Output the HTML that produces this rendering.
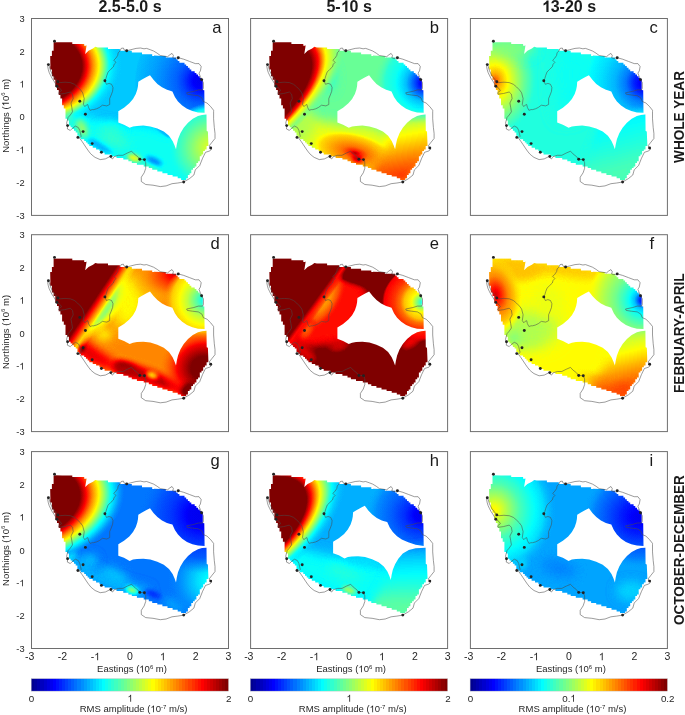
<!DOCTYPE html><html><head><meta charset="utf-8"><style>html,body{margin:0;padding:0;background:#fff;overflow:hidden}svg{display:block;will-change:transform}text{font-family:"Liberation Sans",sans-serif}</style></head><body>
<svg width="685" height="715" viewBox="0 0 685 715">
<defs>
<clipPath id="cr"><path d="M55.0,42.2 L62.1,42.3 L62.1,42.3 L63.8,42.3 L63.8,42.3 L65.5,42.3 L65.5,42.3 L67.2,42.3 L67.2,42.3 L68.9,42.3 L68.9,42.3 L72.3,42.3 L72.3,44.0 L74.0,44.0 L74.0,44.0 L75.7,44.0 L75.7,44.0 L77.4,44.0 L77.4,44.0 L79.1,44.0 L79.1,44.0 L80.8,44.0 L80.8,44.0 L82.5,44.0 L82.5,44.0 L84.2,44.0 L84.2,45.7 L85.9,45.7 L85.9,45.7 L86.6,45.3 L85.2,54.0 L88.5,50.8 L93.0,48.6 L95.3,46.8 L97.8,47.4 L97.8,47.4 L99.5,47.4 L99.5,47.4 L101.2,47.4 L101.2,47.4 L102.9,47.4 L102.9,47.4 L104.6,47.4 L104.6,47.4 L106.3,47.4 L106.3,47.4 L108.0,47.4 L108.0,49.1 L109.7,49.1 L109.7,49.1 L111.4,49.1 L111.4,49.1 L113.1,49.1 L113.1,49.1 L116.5,49.1 L116.5,49.1 L118.2,49.1 L118.2,49.1 L119.9,49.1 L119.9,50.8 L121.6,50.8 L121.6,50.8 L123.3,50.8 L123.3,50.8 L125.0,50.8 L125.0,50.8 L126.7,50.8 L126.7,50.8 L128.4,50.8 L128.4,50.8 L131.8,50.8 L131.8,52.5 L133.5,52.5 L133.5,52.5 L135.2,52.5 L135.2,52.5 L136.9,52.5 L136.9,52.5 L138.6,52.5 L138.6,52.5 L140.3,52.5 L140.3,52.5 L142.0,52.5 L142.0,54.2 L143.7,54.2 L143.7,54.2 L145.4,54.2 L145.4,54.2 L147.1,54.2 L147.1,54.2 L148.8,54.2 L148.8,54.2 L150.5,54.2 L150.5,54.2 L152.2,54.2 L152.2,55.9 L153.9,55.9 L153.9,55.9 L154.0,55.6 L162.4,55.9 L162.4,55.9 L164.1,55.9 L164.1,55.9 L165.8,55.9 L165.8,57.6 L167.5,57.6 L167.5,57.6 L169.2,57.6 L169.2,57.6 L170.9,57.6 L170.9,57.6 L172.6,57.6 L172.6,57.6 L174.3,57.6 L174.3,57.6 L176.0,57.6 L176.0,59.3 L177.7,59.3 L177.7,61.0 L179.4,61.0 L179.4,62.7 L181.1,62.7 L181.1,62.7 L184.5,62.7 L184.5,64.4 L186.2,64.4 L186.2,66.1 L187.9,66.1 L187.9,67.8 L189.6,67.8 L189.6,69.5 L191.3,69.5 L191.3,71.2 L193.0,71.2 L193.0,71.2 L194.7,71.2 L194.7,72.9 L196.4,72.9 L196.4,74.6 L198.1,74.6 L198.1,76.3 L199.8,76.3 L199.8,78.0 L201.5,78.0 L201.5,79.7 L203.2,79.7 L203.2,79.7 L202.8,80.4 L202.8,90.0 L204.3,90.2 L204.6,112.8 L198.0,112.5 L192.4,111.1 L187.0,108.8 L182.2,105.6 L178.0,101.5 L174.9,97.0 L172.4,91.5 L169.5,90.6 L167.0,89.8 L162.0,87.3 L157.4,83.9 L153.5,79.8 L150.0,75.2 L146.5,77.0 L142.0,79.5 L138.3,81.7 L138.0,86.0 L137.3,89.5 L135.8,94.0 L133.0,99.0 L129.3,103.3 L124.0,107.7 L118.3,111.2 L118.3,122.6 L124.0,124.7 L129.7,127.8 L133.0,126.5 L137.0,125.9 L143.3,125.6 L150.3,126.4 L157.3,128.6 L163.8,131.6 L169.0,135.8 L172.6,141.0 L174.6,145.5 L176.0,149.3 L176.8,144.5 L178.0,139.2 L180.4,133.3 L183.7,127.8 L188.0,122.8 L192.8,118.8 L198.0,116.1 L202.0,115.0 L206.3,114.6 L206.5,114.6 L206.7,131.0 L207.9,131.5 L208.4,144.5 L208.3,146.0 L206.6,146.0 L206.6,147.7 L206.6,147.7 L206.6,149.4 L204.9,149.4 L204.9,151.1 L203.2,151.1 L203.2,152.8 L203.2,152.8 L203.2,154.5 L201.5,154.5 L201.5,156.2 L199.8,156.2 L199.8,157.9 L199.8,157.9 L199.8,161.3 L198.1,161.3 L198.1,163.0 L196.4,163.0 L196.4,164.7 L196.4,164.7 L196.4,166.4 L194.7,166.4 L194.7,168.1 L193.0,168.1 L193.0,169.8 L191.3,169.8 L191.3,171.5 L191.3,171.5 L191.3,173.2 L189.6,173.2 L189.6,174.9 L187.9,174.9 L187.9,176.6 L187.9,176.6 L187.9,178.3 L186.2,178.3 L186.2,180.0 L184.5,180.0 L182.8,180.0 L182.8,180.0 L181.1,180.0 L181.1,178.3 L179.4,178.3 L179.4,178.3 L177.7,178.3 L177.7,176.6 L176.0,176.6 L176.0,176.6 L174.3,176.6 L174.3,176.6 L172.6,176.6 L172.6,174.9 L170.9,174.9 L170.9,174.9 L169.2,174.9 L169.2,174.9 L167.5,174.9 L167.5,173.2 L164.1,173.2 L164.1,173.2 L162.4,173.2 L162.4,171.5 L160.7,171.5 L160.7,171.5 L159.0,171.5 L159.0,171.5 L157.3,171.5 L157.3,169.8 L155.6,169.8 L155.6,169.8 L153.9,169.8 L153.9,169.8 L152.2,169.8 L152.2,168.1 L150.5,168.1 L150.5,168.1 L148.8,168.1 L148.8,166.4 L147.1,166.4 L147.1,166.4 L145.4,166.4 L145.4,166.4 L143.7,166.4 L143.7,164.7 L140.3,164.7 L140.3,164.7 L138.6,164.7 L138.6,164.7 L136.9,164.7 L136.9,163.0 L135.2,163.0 L135.2,163.0 L133.5,163.0 L133.5,163.0 L131.8,163.0 L131.8,161.3 L130.1,161.3 L130.1,161.3 L128.4,161.3 L128.4,159.6 L126.7,159.6 L126.7,159.6 L125.0,159.6 L125.0,159.6 L123.3,159.6 L123.3,157.9 L121.6,157.9 L121.6,157.9 L118.2,157.9 L118.2,157.9 L116.5,157.9 L116.5,156.2 L114.8,156.2 L114.8,156.2 L113.1,156.2 L113.1,156.2 L111.4,156.2 L111.4,154.5 L109.7,154.5 L109.7,154.5 L108.0,154.5 L108.0,154.5 L106.3,154.5 L106.3,154.5 L104.6,154.5 L104.6,152.8 L102.9,152.8 L102.9,152.8 L101.2,152.8 L101.2,151.1 L99.5,151.1 L99.5,149.4 L97.8,149.4 L97.8,149.4 L96.1,149.4 L96.1,147.7 L94.4,147.7 L94.4,147.7 L92.7,147.7 L92.7,146.0 L91.0,146.0 L91.0,146.0 L89.3,146.0 L89.3,144.3 L87.6,144.3 L87.6,142.6 L85.9,142.6 L85.9,140.9 L84.2,140.9 L84.2,139.2 L80.8,139.2 L80.8,137.5 L79.1,137.5 L79.1,135.8 L77.4,135.8 L77.4,134.1 L77.4,132.4 L75.7,132.4 L75.7,130.7 L74.0,130.7 L74.0,129.0 L72.3,129.0 L72.3,127.3 L70.6,127.3 L70.6,125.6 L68.9,125.6 L68.9,123.9 L68.9,123.9 L68.9,120.5 L67.2,120.5 L67.2,118.8 L65.5,118.8 L65.5,117.1 L65.5,117.1 L65.5,115.4 L65.5,115.4 L65.5,113.7 L65.5,113.7 L65.5,112.0 L65.5,112.0 L65.5,110.3 L65.5,110.3 L65.5,108.6 L63.8,108.6 L63.8,106.9 L63.8,106.9 L63.8,105.2 L62.1,105.2 L62.1,101.8 L62.1,101.8 L62.1,100.1 L62.1,100.1 L62.1,98.4 L60.4,98.4 L60.4,96.7 L60.4,96.7 L60.4,95.0 L58.7,95.0 L58.7,91.6 L58.7,91.6 L58.7,89.9 L57.0,89.9 L57.0,88.2 L57.0,88.2 L57.0,86.5 L55.3,86.5 L55.3,83.1 L55.3,83.1 L55.3,81.4 L55.3,81.4 L55.3,79.7 L53.6,79.7 L53.6,78.0 L53.6,78.0 L53.6,76.3 L51.9,76.3 L51.9,74.6 L51.9,74.6 L51.9,72.9 L51.9,72.9 L51.9,69.5 L50.2,69.5 L50.2,67.8 L50.2,67.8 L50.2,66.1 L50.2,66.1 L50.4,66.5 L50.2,57.6 L50.2,57.6 L50.2,55.9 L51.9,55.9 L51.9,52.5 L51.9,52.5 L51.9,50.8 L53.6,50.8 L53.6,49.1 L53.6,49.1 L53.6,47.4 L53.6,47.4 L53.6,45.7 L53.6,45.7 L53.6,44.0 L53.6,44.0 L53.6,42.3 L55.3,42.3 L55.0,42.2 Z"/></clipPath>
<clipPath id="cr2"><path d="M55.0,42.2 L62.1,42.3 L62.1,42.3 L63.8,42.3 L63.8,42.3 L65.5,42.3 L65.5,42.3 L67.2,42.3 L67.2,42.3 L68.9,42.3 L68.9,42.3 L72.3,42.3 L72.3,44.0 L74.0,44.0 L74.0,44.0 L75.7,44.0 L75.7,44.0 L77.4,44.0 L77.4,44.0 L79.1,44.0 L79.1,44.0 L80.8,44.0 L80.8,44.0 L82.5,44.0 L82.5,44.0 L84.2,44.0 L84.2,45.7 L85.9,45.7 L85.9,45.7 L86.6,45.3 L85.2,54.0 L88.5,50.8 L93.0,48.6 L95.3,46.8 L97.8,47.4 L97.8,47.4 L99.5,47.4 L99.5,47.4 L101.2,47.4 L101.2,47.4 L102.9,47.4 L102.9,47.4 L104.6,47.4 L104.6,47.4 L106.3,47.4 L106.3,47.4 L108.0,47.4 L108.0,49.1 L109.7,49.1 L109.7,49.1 L111.4,49.1 L111.4,49.1 L113.1,49.1 L113.1,49.1 L116.5,49.1 L116.5,49.1 L118.2,49.1 L118.2,49.1 L119.9,49.1 L119.9,50.8 L121.6,50.8 L121.6,50.8 L123.3,50.8 L123.3,50.8 L125.0,50.8 L125.0,50.8 L126.7,50.8 L126.7,50.8 L128.4,50.8 L128.4,50.8 L131.8,50.8 L131.8,52.5 L133.5,52.5 L133.5,52.5 L135.2,52.5 L135.2,52.5 L136.9,52.5 L136.9,52.5 L138.6,52.5 L138.6,52.5 L140.3,52.5 L140.3,52.5 L142.0,52.5 L142.0,54.2 L143.7,54.2 L143.7,54.2 L145.4,54.2 L145.4,54.2 L147.1,54.2 L147.1,54.2 L148.8,54.2 L148.8,54.2 L150.5,54.2 L150.5,54.2 L152.2,54.2 L152.2,55.9 L153.9,55.9 L153.9,55.9 L154.0,55.6 L162.4,55.9 L162.4,55.9 L164.1,55.9 L164.1,55.9 L165.8,55.9 L165.8,57.6 L167.5,57.6 L167.5,57.6 L169.2,57.6 L169.2,57.6 L170.9,57.6 L170.9,57.6 L172.6,57.6 L172.6,57.6 L174.3,57.6 L174.3,57.6 L176.0,57.6 L176.0,59.3 L177.7,59.3 L177.7,61.0 L179.4,61.0 L179.4,62.7 L181.1,62.7 L181.1,62.7 L184.5,62.7 L184.5,64.4 L186.2,64.4 L186.2,66.1 L187.9,66.1 L187.9,67.8 L189.6,67.8 L189.6,69.5 L191.3,69.5 L191.3,71.2 L193.0,71.2 L193.0,71.2 L194.7,71.2 L194.7,72.9 L196.4,72.9 L196.4,74.6 L198.1,74.6 L198.1,76.3 L199.8,76.3 L199.8,78.0 L201.5,78.0 L201.5,79.7 L203.2,79.7 L203.2,79.7 L202.8,80.4 L202.8,90.0 L204.3,90.2 L204.6,112.8 L196.5,111.6 L189.1,109.2 L182.7,106.3 L177.9,103.1 L173.7,99.0 L170.6,94.5 L168.1,89.0 L165.2,88.1 L162.7,87.3 L157.7,84.8 L153.1,81.4 L149.2,77.3 L145.7,72.7 L142.2,74.5 L137.7,77.0 L134.0,79.2 L133.7,83.5 L133.0,87.0 L131.5,91.5 L128.7,96.5 L125.0,100.8 L119.7,105.2 L114.0,108.7 L114.0,120.1 L119.7,122.2 L125.4,125.3 L128.7,124.0 L132.7,123.4 L139.0,123.1 L146.0,123.9 L153.0,126.1 L159.5,129.1 L164.7,133.3 L168.3,138.5 L170.3,143.0 L171.7,146.8 L172.5,142.0 L173.7,136.7 L176.1,130.8 L179.4,125.3 L183.7,120.3 L189.7,117.0 L196.5,115.2 L201.7,114.8 L206.3,114.6 L206.5,114.6 L206.7,131.0 L207.9,131.5 L208.4,144.5 L208.3,146.0 L206.6,146.0 L206.6,147.7 L206.6,147.7 L206.6,149.4 L204.9,149.4 L204.9,151.1 L203.2,151.1 L203.2,152.8 L203.2,152.8 L203.2,154.5 L201.5,154.5 L201.5,156.2 L199.8,156.2 L199.8,157.9 L199.8,157.9 L199.8,161.3 L198.1,161.3 L198.1,163.0 L196.4,163.0 L196.4,164.7 L196.4,164.7 L196.4,166.4 L194.7,166.4 L194.7,168.1 L193.0,168.1 L193.0,169.8 L191.3,169.8 L191.3,171.5 L191.3,171.5 L191.3,173.2 L189.6,173.2 L189.6,174.9 L187.9,174.9 L187.9,176.6 L187.9,176.6 L187.9,178.3 L186.2,178.3 L186.2,180.0 L184.5,180.0 L182.8,180.0 L182.8,180.0 L181.1,180.0 L181.1,178.3 L179.4,178.3 L179.4,178.3 L177.7,178.3 L177.7,176.6 L176.0,176.6 L176.0,176.6 L174.3,176.6 L174.3,176.6 L172.6,176.6 L172.6,174.9 L170.9,174.9 L170.9,174.9 L169.2,174.9 L169.2,174.9 L167.5,174.9 L167.5,173.2 L164.1,173.2 L164.1,173.2 L162.4,173.2 L162.4,171.5 L160.7,171.5 L160.7,171.5 L159.0,171.5 L159.0,171.5 L157.3,171.5 L157.3,169.8 L155.6,169.8 L155.6,169.8 L153.9,169.8 L153.9,169.8 L152.2,169.8 L152.2,168.1 L150.5,168.1 L150.5,168.1 L148.8,168.1 L148.8,166.4 L147.1,166.4 L147.1,166.4 L145.4,166.4 L145.4,166.4 L143.7,166.4 L143.7,164.7 L140.3,164.7 L140.3,164.7 L138.6,164.7 L138.6,164.7 L136.9,164.7 L136.9,163.0 L135.2,163.0 L135.2,163.0 L133.5,163.0 L133.5,163.0 L131.8,163.0 L131.8,161.3 L130.1,161.3 L130.1,161.3 L128.4,161.3 L128.4,159.6 L126.7,159.6 L126.7,159.6 L125.0,159.6 L125.0,159.6 L123.3,159.6 L123.3,157.9 L121.6,157.9 L121.6,157.9 L118.2,157.9 L118.2,157.9 L116.5,157.9 L116.5,156.2 L114.8,156.2 L114.8,156.2 L113.1,156.2 L113.1,156.2 L111.4,156.2 L111.4,154.5 L109.7,154.5 L109.7,154.5 L108.0,154.5 L108.0,154.5 L106.3,154.5 L106.3,154.5 L104.6,154.5 L104.6,152.8 L102.9,152.8 L102.9,152.8 L101.2,152.8 L101.2,151.1 L99.5,151.1 L99.5,149.4 L97.8,149.4 L97.8,149.4 L96.1,149.4 L96.1,147.7 L94.4,147.7 L94.4,147.7 L92.7,147.7 L92.7,146.0 L91.0,146.0 L91.0,146.0 L89.3,146.0 L89.3,144.3 L87.6,144.3 L87.6,142.6 L85.9,142.6 L85.9,140.9 L84.2,140.9 L84.2,139.2 L80.8,139.2 L80.8,137.5 L79.1,137.5 L79.1,135.8 L77.4,135.8 L77.4,134.1 L77.4,132.4 L75.7,132.4 L75.7,130.7 L74.0,130.7 L74.0,129.0 L72.3,129.0 L72.3,127.3 L70.6,127.3 L70.6,125.6 L68.9,125.6 L68.9,123.9 L68.9,123.9 L68.9,120.5 L67.2,120.5 L67.2,118.8 L65.5,118.8 L65.5,117.1 L65.5,117.1 L65.5,115.4 L65.5,115.4 L65.5,113.7 L65.5,113.7 L65.5,112.0 L65.5,112.0 L65.5,110.3 L65.5,110.3 L65.5,108.6 L63.8,108.6 L63.8,106.9 L63.8,106.9 L63.8,105.2 L62.1,105.2 L62.1,101.8 L62.1,101.8 L62.1,100.1 L62.1,100.1 L62.1,98.4 L60.4,98.4 L60.4,96.7 L60.4,96.7 L60.4,95.0 L58.7,95.0 L58.7,91.6 L58.7,91.6 L58.7,89.9 L57.0,89.9 L57.0,88.2 L57.0,88.2 L57.0,86.5 L55.3,86.5 L55.3,83.1 L55.3,83.1 L55.3,81.4 L55.3,81.4 L55.3,79.7 L53.6,79.7 L53.6,78.0 L53.6,78.0 L53.6,76.3 L51.9,76.3 L51.9,74.6 L51.9,74.6 L51.9,72.9 L51.9,72.9 L51.9,69.5 L50.2,69.5 L50.2,67.8 L50.2,67.8 L50.2,66.1 L50.2,66.1 L50.4,66.5 L50.2,57.6 L50.2,57.6 L50.2,55.9 L51.9,55.9 L51.9,52.5 L51.9,52.5 L51.9,50.8 L53.6,50.8 L53.6,49.1 L53.6,49.1 L53.6,47.4 L53.6,47.4 L53.6,45.7 L53.6,45.7 L53.6,44.0 L53.6,44.0 L53.6,42.3 L55.3,42.3 L55.0,42.2 Z"/></clipPath>
<filter id="jet" x="30" y="30" width="200" height="170" filterUnits="userSpaceOnUse" color-interpolation-filters="sRGB"><feComponentTransfer><feFuncR type="table" tableValues="0.000 0.000 0.000 0.000 0.000 0.000 0.000 0.000 0.000 0.000 0.000 0.000 0.000 0.000 0.000 0.000 0.000 0.000 0.000 0.000 0.000 0.000 0.000 0.000 0.000 0.000 0.000 0.000 0.000 0.000 0.000 0.000 0.000 0.000 0.000 0.000 0.000 0.019 0.059 0.098 0.138 0.177 0.216 0.256 0.295 0.334 0.374 0.413 0.453 0.492 0.531 0.571 0.610 0.649 0.689 0.728 0.768 0.807 0.846 0.886 0.925 0.964 1.000 1.000 1.000 1.000 1.000 1.000 1.000 1.000 1.000 1.000 1.000 1.000 1.000 1.000 1.000 1.000 1.000 1.000 1.000 1.000 1.000 1.000 1.000 1.000 1.000 1.000 0.972 0.933 0.894 0.854 0.815 0.776 0.736 0.697 0.657 0.618 0.579 0.539 0.500 0.500 0.500 0.500 0.500 0.500 0.500 0.500 0.500 0.500 0.500 0.500 0.500 0.500 0.500 0.500 0.500 0.500 0.500 0.500 0.500 0.500 0.500 0.500 0.500 0.500 0.500 0.500 0.500 0.500 0.500"/><feFuncG type="table" tableValues="0.000 0.000 0.000 0.000 0.000 0.000 0.000 0.000 0.000 0.000 0.000 0.000 0.035 0.074 0.114 0.153 0.193 0.232 0.271 0.311 0.350 0.389 0.429 0.468 0.508 0.547 0.586 0.626 0.665 0.704 0.744 0.783 0.823 0.862 0.901 0.941 0.980 1.000 1.000 1.000 1.000 1.000 1.000 1.000 1.000 1.000 1.000 1.000 1.000 1.000 1.000 1.000 1.000 1.000 1.000 1.000 1.000 1.000 1.000 1.000 1.000 1.000 0.996 0.957 0.917 0.878 0.839 0.799 0.760 0.721 0.681 0.642 0.602 0.563 0.524 0.484 0.445 0.406 0.366 0.327 0.287 0.248 0.209 0.169 0.130 0.091 0.051 0.012 0.000 0.000 0.000 0.000 0.000 0.000 0.000 0.000 0.000 0.000 0.000 0.000 0.000 0.000 0.000 0.000 0.000 0.000 0.000 0.000 0.000 0.000 0.000 0.000 0.000 0.000 0.000 0.000 0.000 0.000 0.000 0.000 0.000 0.000 0.000 0.000 0.000 0.000 0.000 0.000 0.000 0.000 0.000"/><feFuncB type="table" tableValues="0.562 0.602 0.641 0.681 0.720 0.759 0.799 0.838 0.877 0.917 0.956 0.996 1.000 1.000 1.000 1.000 1.000 1.000 1.000 1.000 1.000 1.000 1.000 1.000 1.000 1.000 1.000 1.000 1.000 1.000 1.000 1.000 1.000 1.000 1.000 1.000 1.000 0.981 0.941 0.902 0.862 0.823 0.784 0.744 0.705 0.666 0.626 0.587 0.547 0.508 0.469 0.429 0.390 0.351 0.311 0.272 0.232 0.193 0.154 0.114 0.075 0.036 0.000 0.000 0.000 0.000 0.000 0.000 0.000 0.000 0.000 0.000 0.000 0.000 0.000 0.000 0.000 0.000 0.000 0.000 0.000 0.000 0.000 0.000 0.000 0.000 0.000 0.000 0.000 0.000 0.000 0.000 0.000 0.000 0.000 0.000 0.000 0.000 0.000 0.000 0.000 0.000 0.000 0.000 0.000 0.000 0.000 0.000 0.000 0.000 0.000 0.000 0.000 0.000 0.000 0.000 0.000 0.000 0.000 0.000 0.000 0.000 0.000 0.000 0.000 0.000 0.000 0.000 0.000 0.000 0.000"/></feComponentTransfer></filter>
<filter id="b1" x="-100%" y="-100%" width="300%" height="300%" color-interpolation-filters="sRGB"><feGaussianBlur stdDeviation="1"/></filter>
<filter id="b2" x="-100%" y="-100%" width="300%" height="300%" color-interpolation-filters="sRGB"><feGaussianBlur stdDeviation="2"/></filter>
<filter id="b3" x="-100%" y="-100%" width="300%" height="300%" color-interpolation-filters="sRGB"><feGaussianBlur stdDeviation="3"/></filter>
<filter id="b4" x="-100%" y="-100%" width="300%" height="300%" color-interpolation-filters="sRGB"><feGaussianBlur stdDeviation="4"/></filter>
<filter id="b5" x="-100%" y="-100%" width="300%" height="300%" color-interpolation-filters="sRGB"><feGaussianBlur stdDeviation="5"/></filter>
<filter id="b6" x="-100%" y="-100%" width="300%" height="300%" color-interpolation-filters="sRGB"><feGaussianBlur stdDeviation="6"/></filter>
<filter id="b7" x="-100%" y="-100%" width="300%" height="300%" color-interpolation-filters="sRGB"><feGaussianBlur stdDeviation="7"/></filter>
<filter id="b8" x="-100%" y="-100%" width="300%" height="300%" color-interpolation-filters="sRGB"><feGaussianBlur stdDeviation="8"/></filter>
<filter id="b10" x="-100%" y="-100%" width="300%" height="300%" color-interpolation-filters="sRGB"><feGaussianBlur stdDeviation="10"/></filter>
<filter id="b12" x="-100%" y="-100%" width="300%" height="300%" color-interpolation-filters="sRGB"><feGaussianBlur stdDeviation="12"/></filter>
<filter id="b15" x="-100%" y="-100%" width="300%" height="300%" color-interpolation-filters="sRGB"><feGaussianBlur stdDeviation="15"/></filter>
<filter id="b20" x="-100%" y="-100%" width="300%" height="300%" color-interpolation-filters="sRGB"><feGaussianBlur stdDeviation="20"/></filter>
<g id="coast" fill="none" stroke="#4a4a4a" stroke-width="0.55" stroke-linejoin="round"><path d="M48.4,64.6 L47.7,66.5 L48.3,69.5 L49.1,72.3 L50.5,75.3 L52.0,78.2 L54.0,81.2 L55.7,84.0 L56.9,86.2 L60.1,88.4 L61.5,90.6 L58.6,92.8 L59.4,94.2 L64.5,93.5 L70.3,92.0 L72.5,94.2 L73.2,98.6 L71.0,103.0 L71.8,107.4 L72.5,111.8 L70.3,115.0 L68.1,117.5 L66.6,123.1 L67.6,125.6 L67.4,129.0 L70.3,130.4 L72.5,128.2 L75.4,126.1 L78.3,127.5 L79.8,130.4 L80.5,133.4 L81.2,136.3 L79.5,138.0 L82.0,141.4 L84.3,144.8 L86.4,148.0 L88.5,151.0 L90.7,153.8 L93.0,155.8 L95.1,157.4 L100.2,159.6 L105.3,158.9 L109.7,156.7 L112.6,158.9 L114.1,156.7 L118.5,155.3 L122.9,155.3 L127.2,153.1 L131.6,151.2 L134.0,153.8 L137.7,156.7 L139.8,159.3 L144.4,159.6 L145.7,162.6 L145.7,168.4 L144.2,172.8 L141.3,177.2 L141.3,181.5 L145.7,184.5 L153.0,185.2 L160.3,186.6 L166.1,185.9 L172.0,183.7 L177.8,183.0 L183.7,182.0 L189.5,178.6 L193.9,175.0 L195.3,169.9 L199.7,165.5 L202.6,158.2 L205.5,152.3 L209.9,150.9 L211.4,149.4 L210.7,148.0 L209.2,145.8 L212.1,142.1 L215.0,138.5 L215.0,133.4 L214.3,127.5 L213.6,118.8 L213.6,111.5 L213.6,110.3 L210.7,106.6 L207.0,103.0 L203.4,101.5 L201.9,97.9 L198.3,95.7 L192.4,95.0 L187.3,94.2 L186.6,92.8 L193.9,91.3 L198.3,89.9 L202.6,89.9 L203.4,88.4 L203.4,82.6 L201.6,79.6 L200.4,76.7 L199.0,73.1 L200.4,70.9 L201.2,66.5 L199.0,63.6 L195.3,63.6 L189.5,61.4 L183.7,59.2 L178.3,57.7 L174.9,58.5 L172.7,57.7 L173.4,55.5 L172.0,53.4 L169.8,54.8 L167.6,56.7 L160.3,55.5 L157.2,53.2 L153.6,51.0 L150.2,49.7 L146.6,48.4 L144.0,48.8 L140.5,48.0 L136.1,48.4 L130.9,49.7 L126.7,50.8 L124.3,50.1 L123.4,48.0 L121.2,48.4 L119.9,51.0"/><path d="M48.4,64.6 L49.1,65.8 L50.6,70.9 L52.8,75.3 L55.0,78.2 L57.9,81.8 L60.1,82.6 L65.0,82.2 L70.3,82.6 L74.5,84.3 L77.6,86.9 L80.5,89.8 L82.7,92.8 L84.2,98.6 L83.4,104.5 L84.9,106.6 L86.4,105.0 L87.8,104.5 L88.5,107.4 L90.0,110.3 L92.2,109.6 L93.7,109.6 L96.6,108.8 L99.5,107.4 L102.4,105.2 L106.8,105.9 L109.7,104.5 L109.7,98.6 L111.2,95.0 L112.6,91.3 L113.0,87.5 L111.6,84.3 L109.0,83.4 L106.4,84.3 L104.9,80.7 L105.9,78.6 L106.8,75.5 L108.1,72.0 L110.7,69.4 L113.4,66.8 L114.2,64.2 L116.0,62.4 L113.8,60.2 L116.0,58.0 L117.7,55.4 L118.2,52.8 L119.9,51.0"/></g>
<g id="dots" fill="#222"><circle cx="54.5" cy="41.2" r="1.45"/><circle cx="48.4" cy="64.6" r="1.45"/><circle cx="57.9" cy="81.8" r="1.45"/><circle cx="56.9" cy="86.2" r="1.45"/><circle cx="104.9" cy="80.7" r="1.45"/><circle cx="79.8" cy="101.2" r="1.45"/><circle cx="85.4" cy="114.3" r="1.45"/><circle cx="67.6" cy="125.6" r="1.45"/><circle cx="83.1" cy="131.6" r="1.45"/><circle cx="77.9" cy="137.4" r="1.45"/><circle cx="92.2" cy="143.6" r="1.45"/><circle cx="101.4" cy="152.3" r="1.45"/><circle cx="110.9" cy="156.4" r="1.45"/><circle cx="139.8" cy="159.3" r="1.45"/><circle cx="144.4" cy="159.6" r="1.45"/><circle cx="126.7" cy="50.8" r="1.45"/><circle cx="178.3" cy="57.7" r="1.45"/><circle cx="201.6" cy="79.6" r="1.45"/><circle cx="210.7" cy="148.0" r="1.45"/><circle cx="183.7" cy="182.0" r="1.45"/></g>
</defs>
<g transform="translate(0,0)">
<g clip-path="url(#cr)"><g filter="url(#jet)">
<rect x="40" y="35" width="180" height="155" fill="#3d3d3d"/>
<path d="M64.00,108.00 C68.67,106.00 81.00,115.33 90.00,118.00 C99.00,120.67 108.00,122.50 118.00,124.00 C128.00,125.50 141.00,125.50 150.00,127.00 C159.00,128.50 163.67,134.67 172.00,133.00 C180.33,131.33 193.00,115.83 200.00,117.00 C207.00,118.17 215.67,128.17 214.00,140.00 C212.33,151.83 200.67,182.33 190.00,188.00 C179.33,193.67 165.00,179.00 150.00,174.00 C135.00,169.00 114.67,165.33 100.00,158.00 C85.33,150.67 68.00,138.33 62.00,130.00 C56.00,121.67 59.33,110.00 64.00,108.00 Z" fill="#4a4a4a" filter="url(#b5)"/>
<ellipse cx="20" cy="69.95" rx="102.72" ry="67.96" fill="url(#g1)" transform="rotate(-6.09 20 69.95)"/>
<ellipse cx="58" cy="52" rx="10" ry="10" fill="#ffffff" filter="url(#b3)"/>
<ellipse cx="200" cy="81" rx="66" ry="66" fill="url(#g2)"/>
<ellipse cx="68" cy="118" rx="3" ry="8" fill="#5c5c5c" filter="url(#b3)"/>
<ellipse cx="82" cy="128" rx="4" ry="10" fill="#6a6a6a" transform="rotate(-27 82 128)" filter="url(#b3)"/>
<ellipse cx="110" cy="131" rx="12" ry="8" fill="#4e4e4e" filter="url(#b4)"/>
<ellipse cx="100" cy="146" rx="14" ry="3" fill="#353535" transform="rotate(30 100 146)" filter="url(#b2)"/>
<ellipse cx="115" cy="140" rx="15" ry="6" fill="#525252" transform="rotate(20 115 140)" filter="url(#b5)"/>
<ellipse cx="134" cy="158" rx="7" ry="3" fill="#7e7e7e" transform="rotate(20 134 158)" filter="url(#b2)"/>
<ellipse cx="150" cy="167" rx="10" ry="3" fill="#5a5a5a" transform="rotate(20 150 167)" filter="url(#b3)"/>
<ellipse cx="154" cy="161" rx="9" ry="3" fill="#2d2d2d" transform="rotate(25 154 161)" filter="url(#b2)"/>
<ellipse cx="211" cy="148" rx="45" ry="45" fill="url(#g3)"/>
</g></g>
<use href="#coast"/><use href="#dots"/>
<rect x="31.5" y="18.5" width="197" height="196.9" fill="none" stroke="#6e6e6e" stroke-width="1"/>
<text x="212.2" y="33.0" font-size="16.6" fill="#1a1a1a">a</text>
</g>
<g transform="translate(219.1,0)">
<g clip-path="url(#cr)"><g filter="url(#jet)">
<rect x="40" y="35" width="180" height="155" fill="#5c5c5c"/>
<path d="M64.00,108.00 C68.67,106.00 81.00,115.33 90.00,118.00 C99.00,120.67 108.00,122.50 118.00,124.00 C128.00,125.50 141.00,125.50 150.00,127.00 C159.00,128.50 163.67,134.67 172.00,133.00 C180.33,131.33 193.00,115.83 200.00,117.00 C207.00,118.17 215.67,128.17 214.00,140.00 C212.33,151.83 200.67,182.33 190.00,188.00 C179.33,193.67 165.00,179.00 150.00,174.00 C135.00,169.00 114.67,165.33 100.00,158.00 C85.33,150.67 68.00,138.33 62.00,130.00 C56.00,121.67 59.33,110.00 64.00,108.00 Z" fill="#767676" filter="url(#b6)"/>
<ellipse cx="80" cy="125" rx="15" ry="18" fill="#6a6a6a" filter="url(#b6)"/>
<ellipse cx="110" cy="78" rx="7" ry="14" fill="#525252" filter="url(#b5)"/>
<ellipse cx="136" cy="153" rx="44" ry="20" fill="url(#g4)" transform="rotate(15 136 153)"/>
<ellipse cx="138" cy="159" rx="5" ry="2.5" fill="#c4c4c4" transform="rotate(20 138 159)" filter="url(#b2)"/>
<ellipse cx="205" cy="83" rx="50" ry="50" fill="url(#g5)"/>
<path d="M174.0,119.0 L215.0,117.0 L215.0,150.0 L186.0,185.0 L150.0,176.0 L165.0,150.0 Z" fill="url(#g6)" filter="url(#b4)"/>
<ellipse cx="-60" cy="135.57" rx="73.81" ry="208.46" fill="url(#g7)" transform="rotate(61.26 -60 135.57)"/>
</g></g>
<use href="#coast"/><use href="#dots"/>
<rect x="31.5" y="18.5" width="197" height="196.9" fill="none" stroke="#6e6e6e" stroke-width="1"/>
<text x="210.6" y="33.0" font-size="16.6" fill="#1a1a1a">b</text>
</g>
<g transform="translate(438.9,0)">
<g clip-path="url(#cr)"><g filter="url(#jet)">
<rect x="40" y="35" width="180" height="155" fill="#4e4e4e"/>
<path d="M120.00,45.00 C125.00,34.67 143.33,45.83 150.00,50.00 C156.67,54.17 161.67,60.00 160.00,70.00 C158.33,80.00 146.67,103.00 140.00,110.00 C133.33,117.00 123.33,122.83 120.00,112.00 C116.67,101.17 115.00,55.33 120.00,45.00 Z" fill="#4a4a4a" filter="url(#b8)"/>
<ellipse cx="56" cy="81" rx="42" ry="54" fill="url(#g8)"/>
<ellipse cx="75" cy="48" rx="20" ry="8" fill="#626262" filter="url(#b6)"/>
<ellipse cx="205" cy="83" rx="60" ry="60" fill="url(#g9)"/>
<path d="M165.0,115.0 L215.0,110.0 L215.0,150.0 L186.0,185.0 L140.0,172.0 L150.0,150.0 Z" fill="url(#g10)" filter="url(#b3)"/>
</g></g>
<use href="#coast"/><use href="#dots"/>
<rect x="31.5" y="18.5" width="197" height="196.9" fill="none" stroke="#6e6e6e" stroke-width="1"/>
<text x="210.6" y="33.0" font-size="16.6" fill="#1a1a1a">c</text>
</g>
<g transform="translate(0,216.2)">
<g clip-path="url(#cr)"><g filter="url(#jet)">
<rect x="40" y="35" width="180" height="155" fill="#919191"/>
<ellipse cx="128" cy="86" rx="18" ry="28" fill="#7a7a7a" filter="url(#b7)"/>
<ellipse cx="152" cy="70" rx="18" ry="10" fill="#838383" filter="url(#b6)"/>
<ellipse cx="175" cy="58" rx="45" ry="32" fill="url(#g11)"/>
<ellipse cx="204" cy="84" rx="40" ry="40" fill="url(#g12)"/>
<path d="M64.00,110.00 C67.00,109.67 74.00,115.83 80.00,120.00 C86.00,124.17 93.67,130.33 100.00,135.00 C106.33,139.67 116.00,145.00 118.00,148.00 C120.00,151.00 115.83,153.00 112.00,153.00 C108.17,153.00 101.17,150.50 95.00,148.00 C88.83,145.50 80.50,142.33 75.00,138.00 C69.50,133.67 63.83,126.67 62.00,122.00 C60.17,117.33 61.00,110.33 64.00,110.00 Z" fill="#b1b1b1" filter="url(#b4)"/>
<ellipse cx="81" cy="131.6" rx="3" ry="3" fill="#e2e2e2" filter="url(#b2)"/>
<ellipse cx="126" cy="152" rx="11" ry="4" fill="#ebebeb" transform="rotate(20 126 152)" filter="url(#b3)"/>
<path d="M118.00,146.00 C122.83,145.33 134.33,148.33 145.00,152.00 C155.67,155.67 175.17,163.67 182.00,168.00 C188.83,172.33 191.33,178.00 186.00,178.00 C180.67,178.00 161.67,171.67 150.00,168.00 C138.33,164.33 121.33,159.67 116.00,156.00 C110.67,152.33 113.17,146.67 118.00,146.00 Z" fill="#bababa" filter="url(#b3)"/>
<ellipse cx="152" cy="159" rx="6" ry="3" fill="#767676" transform="rotate(20 152 159)" filter="url(#b2)"/>
<ellipse cx="104" cy="118" rx="8" ry="6" fill="#7a7a7a" filter="url(#b4)"/>
<ellipse cx="204" cy="152" rx="44" ry="40" fill="url(#g13)"/>
<ellipse cx="188" cy="174" rx="8" ry="5" fill="#d8d8d8" transform="rotate(-40 188 174)" filter="url(#b3)"/>
<ellipse cx="104" cy="88" rx="18" ry="40" fill="url(#g14)" transform="rotate(33 104 88)"/>
<ellipse cx="102" cy="88" rx="11" ry="33" fill="url(#g15)" transform="rotate(33 102 88)"/>
<path d="M35.0,35.0 L225.0,35.0 L225.0,195.0 L35.0,195.0 Z" fill="url(#g16)"/>
</g></g>
<use href="#coast"/><use href="#dots"/>
<rect x="31.5" y="18.5" width="197" height="196.9" fill="none" stroke="#6e6e6e" stroke-width="1"/>
<text x="210.6" y="33.0" font-size="16.6" fill="#1a1a1a">d</text>
</g>
<g transform="translate(219.1,216.2)">
<g clip-path="url(#cr)"><g filter="url(#jet)">
<rect x="40" y="35" width="180" height="155" fill="#d8d8d8"/>
<path d="M112.00,58.00 C121.17,51.67 133.67,58.33 140.00,62.00 C146.33,65.67 149.67,73.67 150.00,80.00 C150.33,86.33 144.50,93.00 142.00,100.00 C139.50,107.00 140.33,117.00 135.00,122.00 C129.67,127.00 120.00,129.00 110.00,130.00 C100.00,131.00 79.17,133.00 75.00,128.00 C70.83,123.00 78.83,111.67 85.00,100.00 C91.17,88.33 102.83,64.33 112.00,58.00 Z" fill="#a9a9a9" filter="url(#b5)"/>
<ellipse cx="105" cy="84" rx="16" ry="36" fill="url(#g17)" transform="rotate(32 105 84)"/>
<ellipse cx="88" cy="114" rx="8" ry="14" fill="url(#g18)" transform="rotate(35 88 114)"/>
<path d="M66.00,118.00 C67.67,116.83 79.33,124.00 85.00,128.00 C90.67,132.00 98.83,138.67 100.00,142.00 C101.17,145.33 96.17,149.17 92.00,148.00 C87.83,146.83 79.33,140.00 75.00,135.00 C70.67,130.00 64.33,119.17 66.00,118.00 Z" fill="#adadad" filter="url(#b4)"/>
<ellipse cx="120" cy="131" rx="12" ry="5" fill="#adadad" transform="rotate(-15 120 131)" filter="url(#b4)"/>
<ellipse cx="192" cy="125" rx="14" ry="7" fill="#a9a9a9" transform="rotate(-35 192 125)" filter="url(#b4)"/>
<path d="M118.00,48.00 C128.17,47.00 173.67,53.00 186.00,56.00 C198.33,59.00 196.33,63.67 192.00,66.00 C187.67,68.33 171.17,70.67 160.00,70.00 C148.83,69.33 132.00,65.67 125.00,62.00 C118.00,58.33 107.83,49.00 118.00,48.00 Z" fill="#ebebeb" filter="url(#b3)"/>
<ellipse cx="203" cy="86" rx="42" ry="40" fill="url(#g19)"/>
<path d="M35.0,35.0 L225.0,35.0 L225.0,195.0 L35.0,195.0 Z" fill="url(#g20)"/>
</g></g>
<use href="#coast"/><use href="#dots"/>
<rect x="31.5" y="18.5" width="197" height="196.9" fill="none" stroke="#6e6e6e" stroke-width="1"/>
<text x="210.6" y="33.0" font-size="16.6" fill="#1a1a1a">e</text>
</g>
<g transform="translate(438.9,216.2)">
<g clip-path="url(#cr)"><g filter="url(#jet)">
<rect x="40" y="35" width="180" height="155" fill="#7a7a7a"/>
<path d="M52.00,42.00 C60.00,39.83 99.17,44.83 118.00,47.00 C136.83,49.17 159.67,52.50 165.00,55.00 C170.33,57.50 159.17,61.50 150.00,62.00 C140.83,62.50 123.33,58.33 110.00,58.00 C96.67,57.67 79.67,62.67 70.00,60.00 C60.33,57.33 44.00,44.17 52.00,42.00 Z" fill="#858585" filter="url(#b5)"/>
<ellipse cx="78" cy="54" rx="24" ry="10" fill="#858585" filter="url(#b5)"/>
<ellipse cx="95" cy="112" rx="26" ry="18" fill="#6c6c6c" filter="url(#b8)"/>
<ellipse cx="85" cy="118" rx="20" ry="14" fill="#6a6a6a" filter="url(#b6)"/>
<ellipse cx="75" cy="122" rx="6" ry="5" fill="#5e5e5e" filter="url(#b4)"/>
<ellipse cx="110" cy="85" rx="15" ry="15" fill="#767676" filter="url(#b6)"/>
<ellipse cx="57" cy="78" rx="26" ry="40" fill="url(#g21)" transform="rotate(-10 57 78)"/>
<ellipse cx="204" cy="84" rx="55" ry="55" fill="url(#g22)"/>
<ellipse cx="170" cy="170" rx="40" ry="14" fill="url(#g23)" transform="rotate(20 170 170)"/>
<path d="M174.0,119.0 L215.0,117.0 L215.0,150.0 L186.0,185.0 L150.0,176.0 L165.0,150.0 Z" fill="url(#g24)" filter="url(#b4)"/>
<ellipse cx="185" cy="174" rx="10" ry="5" fill="#9d9d9d" filter="url(#b4)"/>
</g></g>
<use href="#coast"/><use href="#dots"/>
<rect x="31.5" y="18.5" width="197" height="196.9" fill="none" stroke="#6e6e6e" stroke-width="1"/>
<text x="210.6" y="33.0" font-size="16.6" fill="#1a1a1a">f</text>
</g>
<g transform="translate(0,433.1)">
<g clip-path="url(#cr)"><g filter="url(#jet)">
<rect x="40" y="35" width="180" height="155" fill="#2d2d2d"/>
<path d="M64.00,110.00 C66.33,109.00 74.00,119.33 80.00,124.00 C86.00,128.67 92.00,133.83 100.00,138.00 C108.00,142.17 119.67,146.00 128.00,149.00 C136.33,152.00 148.00,153.50 150.00,156.00 C152.00,158.50 146.67,163.83 140.00,164.00 C133.33,164.17 119.17,159.83 110.00,157.00 C100.83,154.17 92.33,151.50 85.00,147.00 C77.67,142.50 69.50,136.17 66.00,130.00 C62.50,123.83 61.67,111.00 64.00,110.00 Z" fill="#393939" filter="url(#b5)"/>
<ellipse cx="90" cy="127" rx="8" ry="6" fill="#3d3d3d" filter="url(#b4)"/>
<ellipse cx="114" cy="142" rx="16" ry="6" fill="#3d3d3d" transform="rotate(25 114 142)" filter="url(#b5)"/>
<ellipse cx="70" cy="120" rx="4" ry="8" fill="#474747" filter="url(#b3)"/>
<ellipse cx="132" cy="157" rx="6" ry="3" fill="#6c6c6c" transform="rotate(20 132 157)" filter="url(#b2)"/>
<ellipse cx="153" cy="161" rx="9" ry="3" fill="#1d1d1d" transform="rotate(22 153 161)" filter="url(#b2)"/>
<ellipse cx="175" cy="172" rx="12" ry="4" fill="#393939" transform="rotate(25 175 172)" filter="url(#b4)"/>
<ellipse cx="211" cy="148" rx="45" ry="45" fill="url(#g25)"/>
<ellipse cx="201" cy="82" rx="62" ry="58" fill="url(#g26)"/>
<ellipse cx="20" cy="69.01" rx="68" ry="105.68" fill="url(#g27)" transform="rotate(79.52 20 69.01)"/>
</g></g>
<use href="#coast"/><use href="#dots"/>
<rect x="31.5" y="18.5" width="197" height="196.9" fill="none" stroke="#6e6e6e" stroke-width="1"/>
<text x="210.6" y="33.0" font-size="16.6" fill="#1a1a1a">g</text>
</g>
<g transform="translate(219.1,433.1)">
<g clip-path="url(#cr2)"><g filter="url(#jet)">
<rect x="40" y="35" width="180" height="155" fill="#383838"/>
<path d="M64.00,108.00 C68.67,106.00 81.00,115.33 90.00,118.00 C99.00,120.67 108.00,122.50 118.00,124.00 C128.00,125.50 141.00,125.50 150.00,127.00 C159.00,128.50 163.67,134.67 172.00,133.00 C180.33,131.33 193.00,115.83 200.00,117.00 C207.00,118.17 215.67,128.17 214.00,140.00 C212.33,151.83 200.67,182.33 190.00,188.00 C179.33,193.67 165.00,179.00 150.00,174.00 C135.00,169.00 114.67,165.33 100.00,158.00 C85.33,150.67 68.00,138.33 62.00,130.00 C56.00,121.67 59.33,110.00 64.00,108.00 Z" fill="#494949" filter="url(#b6)"/>
<ellipse cx="125" cy="140" rx="18" ry="7" fill="#4e4e4e" transform="rotate(20 125 140)" filter="url(#b5)"/>
<ellipse cx="130" cy="157" rx="7" ry="3" fill="#6c6c6c" transform="rotate(20 130 157)" filter="url(#b2)"/>
<ellipse cx="190" cy="168" rx="15" ry="8" fill="#626262" transform="rotate(-40 190 168)" filter="url(#b5)"/>
<ellipse cx="145" cy="128" rx="20" ry="5" fill="#414141" transform="rotate(10 145 128)" filter="url(#b4)"/>
<ellipse cx="202" cy="82" rx="56" ry="50" fill="url(#g28)"/>
<path d="M174.0,116.0 L215.0,114.0 L215.0,150.0 L186.0,185.0 L150.0,176.0 L165.0,150.0 Z" fill="url(#g29)" filter="url(#b4)"/>
<ellipse cx="20" cy="96.94" rx="121.26" ry="61.19" fill="url(#g30)" transform="rotate(-33.89 20 96.94)"/>
</g></g>
<use href="#coast"/><use href="#dots"/>
<rect x="31.5" y="18.5" width="197" height="196.9" fill="none" stroke="#6e6e6e" stroke-width="1"/>
<text x="210.6" y="33.0" font-size="16.6" fill="#1a1a1a">h</text>
</g>
<g transform="translate(438.9,433.1)">
<g clip-path="url(#cr)"><g filter="url(#jet)">
<rect x="40" y="35" width="180" height="155" fill="#363636"/>
<ellipse cx="120" cy="135" rx="18" ry="8" fill="#2f2f2f" transform="rotate(15 120 135)" filter="url(#b6)"/>
<ellipse cx="83" cy="130" rx="4" ry="6" fill="#474747" filter="url(#b3)"/>
<ellipse cx="192" cy="158" rx="15" ry="10" fill="#3f3f3f" filter="url(#b5)"/>
<ellipse cx="200" cy="84" rx="56" ry="52" fill="url(#g31)"/>
<ellipse cx="55" cy="77" rx="62" ry="66" fill="url(#g32)"/>
</g></g>
<use href="#coast"/><use href="#dots"/>
<rect x="31.5" y="18.5" width="197" height="196.9" fill="none" stroke="#6e6e6e" stroke-width="1"/>
<text x="210.6" y="33.0" font-size="16.6" fill="#1a1a1a">i</text>
</g>
<text x="130.0" y="12.0" font-size="16" font-weight="bold" text-anchor="middle" fill="#1a1a1a">2.5-5.0 s</text>
<text x="349.1" y="12.0" font-size="16" font-weight="bold" text-anchor="middle" fill="#1a1a1a">5- 0 s</text>
<text x="568.9" y="12.0" font-size="16" font-weight="bold" text-anchor="middle" fill="#1a1a1a"> 3-20 s</text>
<text transform="translate(683.8,117.0) rotate(-90) scale(1,1.07)" x="0" y="0" font-size="13.6" font-weight="bold" text-anchor="middle" fill="#1a1a1a">WHOLE YEAR</text>
<text transform="translate(683.8,333.2) rotate(-90) scale(1,1.07)" x="0" y="0" font-size="13.6" font-weight="bold" text-anchor="middle" fill="#1a1a1a">FEBRUARY-APRIL</text>
<text transform="translate(683.8,550.1) rotate(-90) scale(1,1.07)" x="0" y="0" font-size="13.6" font-weight="bold" text-anchor="middle" fill="#1a1a1a">OCTOBER-DECEMBER</text>
<text x="24.6" y="21.9" font-size="9.3" text-anchor="end" fill="#262626">3</text>
<text x="24.6" y="54.7" font-size="9.3" text-anchor="end" fill="#262626">2</text>
<text x="24.6" y="87.5" font-size="9.3" text-anchor="end" fill="#262626"> </text>
<text x="24.6" y="120.4" font-size="9.3" text-anchor="end" fill="#262626">0</text>
<text x="24.6" y="153.2" font-size="9.3" text-anchor="end" fill="#262626">- </text>
<text x="24.6" y="186.0" font-size="9.3" text-anchor="end" fill="#262626">-2</text>
<text x="24.6" y="218.8" font-size="9.3" text-anchor="end" fill="#262626">-3</text>
<text transform="translate(8.9,115.8) rotate(-90)" font-size="9.5" text-anchor="middle" fill="#262626">Northings ( 0<tspan dy="-3.5" font-size="6">6</tspan><tspan dy="3.5"> m)</tspan></text>
<text x="24.6" y="238.1" font-size="9.3" text-anchor="end" fill="#262626">3</text>
<text x="24.6" y="270.9" font-size="9.3" text-anchor="end" fill="#262626">2</text>
<text x="24.6" y="303.7" font-size="9.3" text-anchor="end" fill="#262626"> </text>
<text x="24.6" y="336.6" font-size="9.3" text-anchor="end" fill="#262626">0</text>
<text x="24.6" y="369.4" font-size="9.3" text-anchor="end" fill="#262626">- </text>
<text x="24.6" y="402.2" font-size="9.3" text-anchor="end" fill="#262626">-2</text>
<text x="24.6" y="435.0" font-size="9.3" text-anchor="end" fill="#262626">-3</text>
<text transform="translate(8.9,332.0) rotate(-90)" font-size="9.5" text-anchor="middle" fill="#262626">Northings ( 0<tspan dy="-3.5" font-size="6">6</tspan><tspan dy="3.5"> m)</tspan></text>
<text x="24.6" y="455.0" font-size="9.3" text-anchor="end" fill="#262626">3</text>
<text x="24.6" y="487.8" font-size="9.3" text-anchor="end" fill="#262626">2</text>
<text x="24.6" y="520.6" font-size="9.3" text-anchor="end" fill="#262626"> </text>
<text x="24.6" y="553.5" font-size="9.3" text-anchor="end" fill="#262626">0</text>
<text x="24.6" y="586.3" font-size="9.3" text-anchor="end" fill="#262626">- </text>
<text x="24.6" y="619.1" font-size="9.3" text-anchor="end" fill="#262626">-2</text>
<text x="24.6" y="651.9" font-size="9.3" text-anchor="end" fill="#262626">-3</text>
<text transform="translate(8.9,548.9) rotate(-90)" font-size="9.5" text-anchor="middle" fill="#262626">Northings ( 0<tspan dy="-3.5" font-size="6">6</tspan><tspan dy="3.5"> m)</tspan></text>
<text x="29.7" y="660.2" font-size="10.5" text-anchor="middle" fill="#262626">-3</text>
<text x="62.5" y="660.2" font-size="10.5" text-anchor="middle" fill="#262626">-2</text>
<text x="95.4" y="660.2" font-size="10.5" text-anchor="middle" fill="#262626">- </text>
<text x="130.0" y="660.2" font-size="10.5" text-anchor="middle" fill="#262626">0</text>
<text x="162.8" y="660.2" font-size="10.5" text-anchor="middle" fill="#262626"> </text>
<text x="195.6" y="660.2" font-size="10.5" text-anchor="middle" fill="#262626">2</text>
<text x="228.5" y="660.2" font-size="10.5" text-anchor="middle" fill="#262626">3</text>
<text x="132.0" y="672.2" font-size="9.5" text-anchor="middle" fill="#262626">Eastings ( 0<tspan dy="-3.5" font-size="6">6</tspan><tspan dy="3.5"> m)</tspan></text>
<text x="248.8" y="660.2" font-size="10.5" text-anchor="middle" fill="#262626">-3</text>
<text x="281.6" y="660.2" font-size="10.5" text-anchor="middle" fill="#262626">-2</text>
<text x="314.5" y="660.2" font-size="10.5" text-anchor="middle" fill="#262626">- </text>
<text x="349.1" y="660.2" font-size="10.5" text-anchor="middle" fill="#262626">0</text>
<text x="381.9" y="660.2" font-size="10.5" text-anchor="middle" fill="#262626"> </text>
<text x="414.8" y="660.2" font-size="10.5" text-anchor="middle" fill="#262626">2</text>
<text x="447.6" y="660.2" font-size="10.5" text-anchor="middle" fill="#262626">3</text>
<text x="351.1" y="672.2" font-size="9.5" text-anchor="middle" fill="#262626">Eastings ( 0<tspan dy="-3.5" font-size="6">6</tspan><tspan dy="3.5"> m)</tspan></text>
<text x="468.6" y="660.2" font-size="10.5" text-anchor="middle" fill="#262626">-3</text>
<text x="501.4" y="660.2" font-size="10.5" text-anchor="middle" fill="#262626">-2</text>
<text x="534.3" y="660.2" font-size="10.5" text-anchor="middle" fill="#262626">- </text>
<text x="568.9" y="660.2" font-size="10.5" text-anchor="middle" fill="#262626">0</text>
<text x="601.7" y="660.2" font-size="10.5" text-anchor="middle" fill="#262626"> </text>
<text x="634.5" y="660.2" font-size="10.5" text-anchor="middle" fill="#262626">2</text>
<text x="667.4" y="660.2" font-size="10.5" text-anchor="middle" fill="#262626">3</text>
<text x="570.9" y="672.2" font-size="9.5" text-anchor="middle" fill="#262626">Eastings ( 0<tspan dy="-3.5" font-size="6">6</tspan><tspan dy="3.5"> m)</tspan></text>
<defs><linearGradient id="cbg" x1="0" x2="1" y1="0" y2="0"><stop offset="0.0000" stop-color="#00008f"/><stop offset="0.0156" stop-color="#00008f"/><stop offset="0.0156" stop-color="#00009f"/><stop offset="0.0312" stop-color="#00009f"/><stop offset="0.0312" stop-color="#0000af"/><stop offset="0.0469" stop-color="#0000af"/><stop offset="0.0469" stop-color="#0000bf"/><stop offset="0.0625" stop-color="#0000bf"/><stop offset="0.0625" stop-color="#0000cf"/><stop offset="0.0781" stop-color="#0000cf"/><stop offset="0.0781" stop-color="#0000df"/><stop offset="0.0938" stop-color="#0000df"/><stop offset="0.0938" stop-color="#0000ef"/><stop offset="0.1094" stop-color="#0000ef"/><stop offset="0.1094" stop-color="#0000ff"/><stop offset="0.1250" stop-color="#0000ff"/><stop offset="0.1250" stop-color="#0010ff"/><stop offset="0.1406" stop-color="#0010ff"/><stop offset="0.1406" stop-color="#0020ff"/><stop offset="0.1562" stop-color="#0020ff"/><stop offset="0.1562" stop-color="#0030ff"/><stop offset="0.1719" stop-color="#0030ff"/><stop offset="0.1719" stop-color="#0040ff"/><stop offset="0.1875" stop-color="#0040ff"/><stop offset="0.1875" stop-color="#0050ff"/><stop offset="0.2031" stop-color="#0050ff"/><stop offset="0.2031" stop-color="#0060ff"/><stop offset="0.2188" stop-color="#0060ff"/><stop offset="0.2188" stop-color="#0070ff"/><stop offset="0.2344" stop-color="#0070ff"/><stop offset="0.2344" stop-color="#0080ff"/><stop offset="0.2500" stop-color="#0080ff"/><stop offset="0.2500" stop-color="#008fff"/><stop offset="0.2656" stop-color="#008fff"/><stop offset="0.2656" stop-color="#009fff"/><stop offset="0.2812" stop-color="#009fff"/><stop offset="0.2812" stop-color="#00afff"/><stop offset="0.2969" stop-color="#00afff"/><stop offset="0.2969" stop-color="#00bfff"/><stop offset="0.3125" stop-color="#00bfff"/><stop offset="0.3125" stop-color="#00cfff"/><stop offset="0.3281" stop-color="#00cfff"/><stop offset="0.3281" stop-color="#00dfff"/><stop offset="0.3438" stop-color="#00dfff"/><stop offset="0.3438" stop-color="#00efff"/><stop offset="0.3594" stop-color="#00efff"/><stop offset="0.3594" stop-color="#00ffff"/><stop offset="0.3750" stop-color="#00ffff"/><stop offset="0.3750" stop-color="#10ffef"/><stop offset="0.3906" stop-color="#10ffef"/><stop offset="0.3906" stop-color="#20ffdf"/><stop offset="0.4062" stop-color="#20ffdf"/><stop offset="0.4062" stop-color="#30ffcf"/><stop offset="0.4219" stop-color="#30ffcf"/><stop offset="0.4219" stop-color="#40ffbf"/><stop offset="0.4375" stop-color="#40ffbf"/><stop offset="0.4375" stop-color="#50ffaf"/><stop offset="0.4531" stop-color="#50ffaf"/><stop offset="0.4531" stop-color="#60ff9f"/><stop offset="0.4688" stop-color="#60ff9f"/><stop offset="0.4688" stop-color="#70ff8f"/><stop offset="0.4844" stop-color="#70ff8f"/><stop offset="0.4844" stop-color="#80ff80"/><stop offset="0.5000" stop-color="#80ff80"/><stop offset="0.5000" stop-color="#8fff70"/><stop offset="0.5156" stop-color="#8fff70"/><stop offset="0.5156" stop-color="#9fff60"/><stop offset="0.5312" stop-color="#9fff60"/><stop offset="0.5312" stop-color="#afff50"/><stop offset="0.5469" stop-color="#afff50"/><stop offset="0.5469" stop-color="#bfff40"/><stop offset="0.5625" stop-color="#bfff40"/><stop offset="0.5625" stop-color="#cfff30"/><stop offset="0.5781" stop-color="#cfff30"/><stop offset="0.5781" stop-color="#dfff20"/><stop offset="0.5938" stop-color="#dfff20"/><stop offset="0.5938" stop-color="#efff10"/><stop offset="0.6094" stop-color="#efff10"/><stop offset="0.6094" stop-color="#ffff00"/><stop offset="0.6250" stop-color="#ffff00"/><stop offset="0.6250" stop-color="#ffef00"/><stop offset="0.6406" stop-color="#ffef00"/><stop offset="0.6406" stop-color="#ffdf00"/><stop offset="0.6562" stop-color="#ffdf00"/><stop offset="0.6562" stop-color="#ffcf00"/><stop offset="0.6719" stop-color="#ffcf00"/><stop offset="0.6719" stop-color="#ffbf00"/><stop offset="0.6875" stop-color="#ffbf00"/><stop offset="0.6875" stop-color="#ffaf00"/><stop offset="0.7031" stop-color="#ffaf00"/><stop offset="0.7031" stop-color="#ff9f00"/><stop offset="0.7188" stop-color="#ff9f00"/><stop offset="0.7188" stop-color="#ff8f00"/><stop offset="0.7344" stop-color="#ff8f00"/><stop offset="0.7344" stop-color="#ff8000"/><stop offset="0.7500" stop-color="#ff8000"/><stop offset="0.7500" stop-color="#ff7000"/><stop offset="0.7656" stop-color="#ff7000"/><stop offset="0.7656" stop-color="#ff6000"/><stop offset="0.7812" stop-color="#ff6000"/><stop offset="0.7812" stop-color="#ff5000"/><stop offset="0.7969" stop-color="#ff5000"/><stop offset="0.7969" stop-color="#ff4000"/><stop offset="0.8125" stop-color="#ff4000"/><stop offset="0.8125" stop-color="#ff3000"/><stop offset="0.8281" stop-color="#ff3000"/><stop offset="0.8281" stop-color="#ff2000"/><stop offset="0.8438" stop-color="#ff2000"/><stop offset="0.8438" stop-color="#ff1000"/><stop offset="0.8594" stop-color="#ff1000"/><stop offset="0.8594" stop-color="#ff0000"/><stop offset="0.8750" stop-color="#ff0000"/><stop offset="0.8750" stop-color="#ef0000"/><stop offset="0.8906" stop-color="#ef0000"/><stop offset="0.8906" stop-color="#df0000"/><stop offset="0.9062" stop-color="#df0000"/><stop offset="0.9062" stop-color="#cf0000"/><stop offset="0.9219" stop-color="#cf0000"/><stop offset="0.9219" stop-color="#bf0000"/><stop offset="0.9375" stop-color="#bf0000"/><stop offset="0.9375" stop-color="#af0000"/><stop offset="0.9531" stop-color="#af0000"/><stop offset="0.9531" stop-color="#9f0000"/><stop offset="0.9688" stop-color="#9f0000"/><stop offset="0.9688" stop-color="#8f0000"/><stop offset="0.9844" stop-color="#8f0000"/><stop offset="0.9844" stop-color="#800000"/><stop offset="1.0000" stop-color="#800000"/></linearGradient></defs>
<rect x="31.2" y="678.7" width="197.3" height="12.4" fill="url(#cbg)" stroke="#bdbdbd" stroke-width="0.4"/>
<text x="31.5" y="701.8" font-size="9.8" text-anchor="middle" fill="#262626">0</text>
<text x="130.2" y="701.8" font-size="9.8" text-anchor="middle" fill="#262626"> </text>
<text x="228.8" y="701.8" font-size="9.8" text-anchor="middle" fill="#262626">2</text>
<text x="133.6" y="712.2" font-size="9.5" text-anchor="middle" fill="#262626">RMS amplitude ( 0<tspan dy="-3.5" font-size="6">-7</tspan><tspan dy="3.5"> m/s)</tspan></text>
<rect x="250.3" y="678.7" width="197.3" height="12.4" fill="url(#cbg)" stroke="#bdbdbd" stroke-width="0.4"/>
<text x="250.6" y="701.8" font-size="9.8" text-anchor="middle" fill="#262626">0</text>
<text x="349.2" y="701.8" font-size="9.8" text-anchor="middle" fill="#262626"> </text>
<text x="447.9" y="701.8" font-size="9.8" text-anchor="middle" fill="#262626">2</text>
<text x="352.7" y="712.2" font-size="9.5" text-anchor="middle" fill="#262626">RMS amplitude ( 0<tspan dy="-3.5" font-size="6">-7</tspan><tspan dy="3.5"> m/s)</tspan></text>
<rect x="470.1" y="678.7" width="197.3" height="12.4" fill="url(#cbg)" stroke="#bdbdbd" stroke-width="0.4"/>
<text x="470.4" y="701.8" font-size="9.8" text-anchor="middle" fill="#262626">0</text>
<text x="569.0" y="701.8" font-size="9.8" text-anchor="middle" fill="#262626">0. </text>
<text x="667.7" y="701.8" font-size="9.8" text-anchor="middle" fill="#262626">0.2</text>
<text x="572.5" y="712.2" font-size="9.5" text-anchor="middle" fill="#262626">RMS amplitude ( 0<tspan dy="-3.5" font-size="6">-7</tspan><tspan dy="3.5"> m/s)</tspan></text>
<defs><radialGradient id="g1" cx="0.5" cy="0.5" r="0.5"><stop offset="0" stop-color="#ffffff"/><stop offset="0.6053" stop-color="#c4c4c4"/><stop offset="0.6606" stop-color="#a9a9a9"/><stop offset="0.71" stop-color="#919191"/><stop offset="0.77" stop-color="#7a7a7a"/><stop offset="0.82" stop-color="#626262"/><stop offset="0.8696" stop-color="#494949"/><stop offset="1" stop-color="#3d3d3d" stop-opacity="0"/></radialGradient><radialGradient id="g2" cx="0.5" cy="0.5" r="0.5"><stop offset="0" stop-color="#131313"/><stop offset="0.1" stop-color="#151515"/><stop offset="0.17" stop-color="#1b1b1b"/><stop offset="0.265" stop-color="#232323"/><stop offset="0.36" stop-color="#292929"/><stop offset="0.53" stop-color="#2f2f2f"/><stop offset="0.71" stop-color="#353535"/><stop offset="0.97" stop-color="#3b3b3b"/><stop offset="1" stop-color="#3d3d3d" stop-opacity="0"/></radialGradient><radialGradient id="g3" cx="0.5" cy="0.5" r="0.5"><stop offset="0" stop-color="#767676"/><stop offset="0.3" stop-color="#686868"/><stop offset="0.6" stop-color="#585858"/><stop offset="0.85" stop-color="#4c4c4c"/><stop offset="1" stop-color="#494949" stop-opacity="0"/></radialGradient><radialGradient id="g4" cx="0.5" cy="0.5" r="0.5"><stop offset="0" stop-color="#bababa"/><stop offset="0.12" stop-color="#a5a5a5"/><stop offset="0.3" stop-color="#959595"/><stop offset="0.55" stop-color="#8b8b8b"/><stop offset="0.8" stop-color="#818181"/><stop offset="1" stop-color="#7a7a7a" stop-opacity="0"/></radialGradient><radialGradient id="g5" cx="0.5" cy="0.5" r="0.5"><stop offset="0" stop-color="#131313"/><stop offset="0.08" stop-color="#161616"/><stop offset="0.16" stop-color="#212121"/><stop offset="0.36" stop-color="#3b3b3b"/><stop offset="0.58" stop-color="#4a4a4a"/><stop offset="0.78" stop-color="#505050"/><stop offset="1" stop-color="#5a5a5a" stop-opacity="0"/></radialGradient><linearGradient id="g6" gradientUnits="userSpaceOnUse" x1="182" y1="120" x2="192" y2="178"><stop offset="0" stop-color="#6a6a6a"/><stop offset="0.3" stop-color="#7c7c7c"/><stop offset="0.6" stop-color="#8f8f8f"/><stop offset="1" stop-color="#a5a5a5"/></linearGradient><radialGradient id="g7" cx="0.5" cy="0.5" r="0.5"><stop offset="0" stop-color="#ffffff"/><stop offset="0.8191" stop-color="#c4c4c4"/><stop offset="0.8554" stop-color="#a9a9a9"/><stop offset="0.875" stop-color="#919191"/><stop offset="0.8958" stop-color="#7a7a7a"/><stop offset="0.9524" stop-color="#626262"/><stop offset="1" stop-color="#5c5c5c" stop-opacity="0"/></radialGradient><radialGradient id="g8" cx="0.5" cy="0.5" r="0.5"><stop offset="0" stop-color="#9d9d9d"/><stop offset="0.06" stop-color="#959595"/><stop offset="0.14" stop-color="#898989"/><stop offset="0.3" stop-color="#7a7a7a"/><stop offset="0.48" stop-color="#6c6c6c"/><stop offset="0.7" stop-color="#5c5c5c"/><stop offset="0.88" stop-color="#525252"/><stop offset="1" stop-color="#4e4e4e" stop-opacity="0"/></radialGradient><radialGradient id="g9" cx="0.5" cy="0.5" r="0.5"><stop offset="0" stop-color="#131313"/><stop offset="0.08" stop-color="#161616"/><stop offset="0.17" stop-color="#1d1d1d"/><stop offset="0.3" stop-color="#2d2d2d"/><stop offset="0.48" stop-color="#393939"/><stop offset="0.7" stop-color="#414141"/><stop offset="0.9" stop-color="#474747"/><stop offset="1" stop-color="#4a4a4a" stop-opacity="0"/></radialGradient><linearGradient id="g10" gradientUnits="userSpaceOnUse" x1="188" y1="121" x2="200" y2="165"><stop offset="0" stop-color="#474747"/><stop offset="0.5" stop-color="#4e4e4e"/><stop offset="1" stop-color="#565656"/></linearGradient><radialGradient id="g11" cx="0.5" cy="0.5" r="0.5"><stop offset="0" stop-color="#b4b4b4"/><stop offset="0.3" stop-color="#a1a1a1"/><stop offset="0.6" stop-color="#919191"/><stop offset="1" stop-color="#898989" stop-opacity="0"/></radialGradient><radialGradient id="g12" cx="0.5" cy="0.5" r="0.5"><stop offset="0" stop-color="#474747"/><stop offset="0.07" stop-color="#4e4e4e"/><stop offset="0.22" stop-color="#5c5c5c"/><stop offset="0.42" stop-color="#6e6e6e"/><stop offset="0.62" stop-color="#7a7a7a"/><stop offset="0.8" stop-color="#838383"/><stop offset="1" stop-color="#8f8f8f" stop-opacity="0"/></radialGradient><radialGradient id="g13" cx="0.5" cy="0.5" r="0.5"><stop offset="0" stop-color="#d8d8d8"/><stop offset="0.3" stop-color="#c4c4c4"/><stop offset="0.6" stop-color="#adadad"/><stop offset="1" stop-color="#959595" stop-opacity="0"/></radialGradient><radialGradient id="g14" cx="0.5" cy="0.5" r="0.5"><stop offset="0" stop-color="#626262"/><stop offset="0.5" stop-color="#6e6e6e"/><stop offset="1" stop-color="#7a7a7a" stop-opacity="0"/></radialGradient><radialGradient id="g15" cx="0.5" cy="0.5" r="0.5"><stop offset="0" stop-color="#4c4c4c"/><stop offset="0.35" stop-color="#525252"/><stop offset="0.7" stop-color="#5e5e5e"/><stop offset="1" stop-color="#6c6c6c" stop-opacity="0"/></radialGradient><linearGradient id="g16" gradientUnits="userSpaceOnUse" x1="80.808" y1="76.8464" x2="108.29" y2="95.1143"><stop offset="0" stop-color="#ffffff"/><stop offset="0.454545" stop-color="#c4c4c4"/><stop offset="0.575758" stop-color="#ababab"/><stop offset="0.69697" stop-color="#939393"/><stop offset="0.787879" stop-color="#818181"/><stop offset="0.878788" stop-color="#7a7a7a" stop-opacity="0.5"/><stop offset="1" stop-color="#767676" stop-opacity="0"/></linearGradient><radialGradient id="g17" cx="0.5" cy="0.5" r="0.5"><stop offset="0" stop-color="#898989"/><stop offset="0.35" stop-color="#919191"/><stop offset="0.65" stop-color="#9d9d9d"/><stop offset="1" stop-color="#a9a9a9" stop-opacity="0"/></radialGradient><radialGradient id="g18" cx="0.5" cy="0.5" r="0.5"><stop offset="0" stop-color="#999999"/><stop offset="0.5" stop-color="#a1a1a1"/><stop offset="1" stop-color="#a9a9a9" stop-opacity="0"/></radialGradient><radialGradient id="g19" cx="0.5" cy="0.5" r="0.5"><stop offset="0" stop-color="#494949"/><stop offset="0.07" stop-color="#585858"/><stop offset="0.25" stop-color="#7a7a7a"/><stop offset="0.42" stop-color="#858585"/><stop offset="0.52" stop-color="#959595"/><stop offset="0.66" stop-color="#a1a1a1"/><stop offset="0.9" stop-color="#adadad"/><stop offset="1" stop-color="#b1b1b1" stop-opacity="0"/></radialGradient><linearGradient id="g20" gradientUnits="userSpaceOnUse" x1="80.7166" y1="79.5807" x2="100.939" y2="94.2796"><stop offset="0" stop-color="#ffffff"/><stop offset="0.6" stop-color="#c4c4c4"/><stop offset="0.76" stop-color="#a9a9a9"/><stop offset="0.92" stop-color="#a9a9a9" stop-opacity="0.5"/><stop offset="1" stop-color="#a9a9a9" stop-opacity="0"/></linearGradient><radialGradient id="g21" cx="0.5" cy="0.5" r="0.5"><stop offset="0" stop-color="#b4b4b4"/><stop offset="0.2" stop-color="#a5a5a5"/><stop offset="0.45" stop-color="#919191"/><stop offset="0.7" stop-color="#858585"/><stop offset="1" stop-color="#7e7e7e" stop-opacity="0"/></radialGradient><radialGradient id="g22" cx="0.5" cy="0.5" r="0.5"><stop offset="0" stop-color="#181818"/><stop offset="0.06" stop-color="#1f1f1f"/><stop offset="0.15" stop-color="#3b3b3b"/><stop offset="0.26" stop-color="#4a4a4a"/><stop offset="0.35" stop-color="#525252"/><stop offset="0.5" stop-color="#5e5e5e"/><stop offset="0.75" stop-color="#6c6c6c"/><stop offset="0.9" stop-color="#767676"/><stop offset="1" stop-color="#787878" stop-opacity="0"/></radialGradient><radialGradient id="g23" cx="0.5" cy="0.5" r="0.5"><stop offset="0" stop-color="#8d8d8d"/><stop offset="0.5" stop-color="#858585"/><stop offset="1" stop-color="#7a7a7a" stop-opacity="0"/></radialGradient><linearGradient id="g24" gradientUnits="userSpaceOnUse" x1="186" y1="122" x2="198" y2="170"><stop offset="0" stop-color="#6e6e6e"/><stop offset="0.3" stop-color="#7a7a7a"/><stop offset="0.65" stop-color="#8d8d8d"/><stop offset="1" stop-color="#9f9f9f"/></linearGradient><radialGradient id="g25" cx="0.5" cy="0.5" r="0.5"><stop offset="0" stop-color="#4b4b4b"/><stop offset="0.3" stop-color="#414141"/><stop offset="0.6" stop-color="#353535"/><stop offset="1" stop-color="#2d2d2d" stop-opacity="0"/></radialGradient><radialGradient id="g26" cx="0.5" cy="0.5" r="0.5"><stop offset="0" stop-color="#131313"/><stop offset="0.2" stop-color="#141414"/><stop offset="0.35" stop-color="#1b1b1b"/><stop offset="0.5" stop-color="#212121"/><stop offset="0.72" stop-color="#272727"/><stop offset="1" stop-color="#2d2d2d" stop-opacity="0"/></radialGradient><radialGradient id="g27" cx="0.5" cy="0.5" r="0.5"><stop offset="0" stop-color="#ffffff"/><stop offset="0.5731" stop-color="#c4c4c4"/><stop offset="0.6368" stop-color="#a9a9a9"/><stop offset="0.69" stop-color="#919191"/><stop offset="0.7533" stop-color="#7a7a7a"/><stop offset="0.81" stop-color="#626262"/><stop offset="0.8696" stop-color="#494949"/><stop offset="0.93" stop-color="#393939"/><stop offset="1" stop-color="#313131" stop-opacity="0"/></radialGradient><radialGradient id="g28" cx="0.5" cy="0.5" r="0.5"><stop offset="0" stop-color="#131313"/><stop offset="0.12" stop-color="#151515"/><stop offset="0.3" stop-color="#1f1f1f"/><stop offset="0.55" stop-color="#292929"/><stop offset="0.8" stop-color="#313131"/><stop offset="1" stop-color="#383838" stop-opacity="0"/></radialGradient><linearGradient id="g29" gradientUnits="userSpaceOnUse" x1="190" y1="116" x2="192" y2="170"><stop offset="0" stop-color="#373737"/><stop offset="0.3" stop-color="#434343"/><stop offset="0.6" stop-color="#4c4c4c"/><stop offset="1" stop-color="#5a5a5a"/></linearGradient><radialGradient id="g30" cx="0.5" cy="0.5" r="0.5"><stop offset="0" stop-color="#ffffff"/><stop offset="0.6358" stop-color="#c4c4c4"/><stop offset="0.6798" stop-color="#a9a9a9"/><stop offset="0.72" stop-color="#919191"/><stop offset="0.7601" stop-color="#7a7a7a"/><stop offset="0.815" stop-color="#626262"/><stop offset="0.8696" stop-color="#494949"/><stop offset="1" stop-color="#3b3b3b" stop-opacity="0"/></radialGradient><radialGradient id="g31" cx="0.5" cy="0.5" r="0.5"><stop offset="0" stop-color="#131313"/><stop offset="0.12" stop-color="#151515"/><stop offset="0.3" stop-color="#1b1b1b"/><stop offset="0.55" stop-color="#252525"/><stop offset="0.8" stop-color="#2f2f2f"/><stop offset="1" stop-color="#363636" stop-opacity="0"/></radialGradient><radialGradient id="g32" cx="0.5" cy="0.5" r="0.5"><stop offset="0" stop-color="#7c7c7c"/><stop offset="0.08" stop-color="#767676"/><stop offset="0.22" stop-color="#686868"/><stop offset="0.42" stop-color="#565656"/><stop offset="0.6" stop-color="#4b4b4b"/><stop offset="0.8" stop-color="#414141"/><stop offset="1" stop-color="#383838" stop-opacity="0"/></radialGradient></defs>
<g fill="#1a1a1a"><path d="M867 0L586 0L586 1059C483 963 363 892 225 846L225 1101C298 1125 377 1170 462 1236C547 1302 605 1379 637 1466L867 1466Z" transform="translate(340.63,12.00) scale(0.007812,-0.007812)"/></g><g fill="#1a1a1a"><path d="M867 0L586 0L586 1059C483 963 363 892 225 846L225 1101C298 1125 377 1170 462 1236C547 1302 605 1379 637 1466L867 1466Z" transform="translate(541.77,12.00) scale(0.007812,-0.007812)"/></g><g fill="#262626"><path d="M763 0L583 0L583 1147C540 1106 483 1065 413 1024C343 983 280 953 225 933L225 1107C325 1154 412 1211 486 1276C560 1341 612 1404 643 1466L763 1466Z" transform="translate(19.43,87.50) scale(0.004541,-0.004541)"/></g><g fill="#262626"><path d="M763 0L583 0L583 1147C540 1106 483 1065 413 1024C343 983 280 953 225 933L225 1107C325 1154 412 1211 486 1276C560 1341 612 1404 643 1466L763 1466Z" transform="translate(19.41,153.20) scale(0.004541,-0.004541)"/></g><g fill="#262626" transform="translate(8.9,115.8) rotate(-90)"><path d="M763 0L583 0L583 1147C540 1106 483 1065 413 1024C343 983 280 953 225 933L225 1107C325 1154 412 1211 486 1276C560 1341 612 1404 643 1466L763 1466Z" transform="translate(9.41,0.00) scale(0.004639,-0.004639)"/></g><g fill="#262626"><path d="M763 0L583 0L583 1147C540 1106 483 1065 413 1024C343 983 280 953 225 933L225 1107C325 1154 412 1211 486 1276C560 1341 612 1404 643 1466L763 1466Z" transform="translate(19.43,303.70) scale(0.004541,-0.004541)"/></g><g fill="#262626"><path d="M763 0L583 0L583 1147C540 1106 483 1065 413 1024C343 983 280 953 225 933L225 1107C325 1154 412 1211 486 1276C560 1341 612 1404 643 1466L763 1466Z" transform="translate(19.41,369.40) scale(0.004541,-0.004541)"/></g><g fill="#262626" transform="translate(8.9,332.0) rotate(-90)"><path d="M763 0L583 0L583 1147C540 1106 483 1065 413 1024C343 983 280 953 225 933L225 1107C325 1154 412 1211 486 1276C560 1341 612 1404 643 1466L763 1466Z" transform="translate(9.41,0.00) scale(0.004639,-0.004639)"/></g><g fill="#262626"><path d="M763 0L583 0L583 1147C540 1106 483 1065 413 1024C343 983 280 953 225 933L225 1107C325 1154 412 1211 486 1276C560 1341 612 1404 643 1466L763 1466Z" transform="translate(19.43,520.60) scale(0.004541,-0.004541)"/></g><g fill="#262626"><path d="M763 0L583 0L583 1147C540 1106 483 1065 413 1024C343 983 280 953 225 933L225 1107C325 1154 412 1211 486 1276C560 1341 612 1404 643 1466L763 1466Z" transform="translate(19.41,586.30) scale(0.004541,-0.004541)"/></g><g fill="#262626" transform="translate(8.9,548.9) rotate(-90)"><path d="M763 0L583 0L583 1147C540 1106 483 1065 413 1024C343 983 280 953 225 933L225 1107C325 1154 412 1211 486 1276C560 1341 612 1404 643 1466L763 1466Z" transform="translate(9.41,0.00) scale(0.004639,-0.004639)"/></g><g fill="#262626"><path d="M763 0L583 0L583 1147C540 1106 483 1065 413 1024C343 983 280 953 225 933L225 1107C325 1154 412 1211 486 1276C560 1341 612 1404 643 1466L763 1466Z" transform="translate(94.21,660.20) scale(0.005127,-0.005127)"/></g><g fill="#262626"><path d="M763 0L583 0L583 1147C540 1106 483 1065 413 1024C343 983 280 953 225 933L225 1107C325 1154 412 1211 486 1276C560 1341 612 1404 643 1466L763 1466Z" transform="translate(159.88,660.20) scale(0.005127,-0.005127)"/></g><g fill="#262626"><path d="M763 0L583 0L583 1147C540 1106 483 1065 413 1024C343 983 280 953 225 933L225 1107C325 1154 412 1211 486 1276C560 1341 612 1404 643 1466L763 1466Z" transform="translate(139.30,672.20) scale(0.004639,-0.004639)"/></g><g fill="#262626"><path d="M763 0L583 0L583 1147C540 1106 483 1065 413 1024C343 983 280 953 225 933L225 1107C325 1154 412 1211 486 1276C560 1341 612 1404 643 1466L763 1466Z" transform="translate(313.31,660.20) scale(0.005127,-0.005127)"/></g><g fill="#262626"><path d="M763 0L583 0L583 1147C540 1106 483 1065 413 1024C343 983 280 953 225 933L225 1107C325 1154 412 1211 486 1276C560 1341 612 1404 643 1466L763 1466Z" transform="translate(378.98,660.20) scale(0.005127,-0.005127)"/></g><g fill="#262626"><path d="M763 0L583 0L583 1147C540 1106 483 1065 413 1024C343 983 280 953 225 933L225 1107C325 1154 412 1211 486 1276C560 1341 612 1404 643 1466L763 1466Z" transform="translate(358.40,672.20) scale(0.004639,-0.004639)"/></g><g fill="#262626"><path d="M763 0L583 0L583 1147C540 1106 483 1065 413 1024C343 983 280 953 225 933L225 1107C325 1154 412 1211 486 1276C560 1341 612 1404 643 1466L763 1466Z" transform="translate(533.11,660.20) scale(0.005127,-0.005127)"/></g><g fill="#262626"><path d="M763 0L583 0L583 1147C540 1106 483 1065 413 1024C343 983 280 953 225 933L225 1107C325 1154 412 1211 486 1276C560 1341 612 1404 643 1466L763 1466Z" transform="translate(598.78,660.20) scale(0.005127,-0.005127)"/></g><g fill="#262626"><path d="M763 0L583 0L583 1147C540 1106 483 1065 413 1024C343 983 280 953 225 933L225 1107C325 1154 412 1211 486 1276C560 1341 612 1404 643 1466L763 1466Z" transform="translate(578.20,672.20) scale(0.004639,-0.004639)"/></g><g fill="#262626"><path d="M763 0L583 0L583 1147C540 1106 483 1065 413 1024C343 983 280 953 225 933L225 1107C325 1154 412 1211 486 1276C560 1341 612 1404 643 1466L763 1466Z" transform="translate(127.47,701.80) scale(0.004785,-0.004785)"/></g><g fill="#262626"><path d="M763 0L583 0L583 1147C540 1106 483 1065 413 1024C343 983 280 953 225 933L225 1107C325 1154 412 1211 486 1276C560 1341 612 1404 643 1466L763 1466Z" transform="translate(150.45,712.20) scale(0.004639,-0.004639)"/></g><g fill="#262626"><path d="M763 0L583 0L583 1147C540 1106 483 1065 413 1024C343 983 280 953 225 933L225 1107C325 1154 412 1211 486 1276C560 1341 612 1404 643 1466L763 1466Z" transform="translate(346.47,701.80) scale(0.004785,-0.004785)"/></g><g fill="#262626"><path d="M763 0L583 0L583 1147C540 1106 483 1065 413 1024C343 983 280 953 225 933L225 1107C325 1154 412 1211 486 1276C560 1341 612 1404 643 1466L763 1466Z" transform="translate(369.55,712.20) scale(0.004639,-0.004639)"/></g><g fill="#262626"><path d="M763 0L583 0L583 1147C540 1106 483 1065 413 1024C343 983 280 953 225 933L225 1107C325 1154 412 1211 486 1276C560 1341 612 1404 643 1466L763 1466Z" transform="translate(570.34,701.80) scale(0.004785,-0.004785)"/></g><g fill="#262626"><path d="M763 0L583 0L583 1147C540 1106 483 1065 413 1024C343 983 280 953 225 933L225 1107C325 1154 412 1211 486 1276C560 1341 612 1404 643 1466L763 1466Z" transform="translate(589.35,712.20) scale(0.004639,-0.004639)"/></g></svg></body></html>
